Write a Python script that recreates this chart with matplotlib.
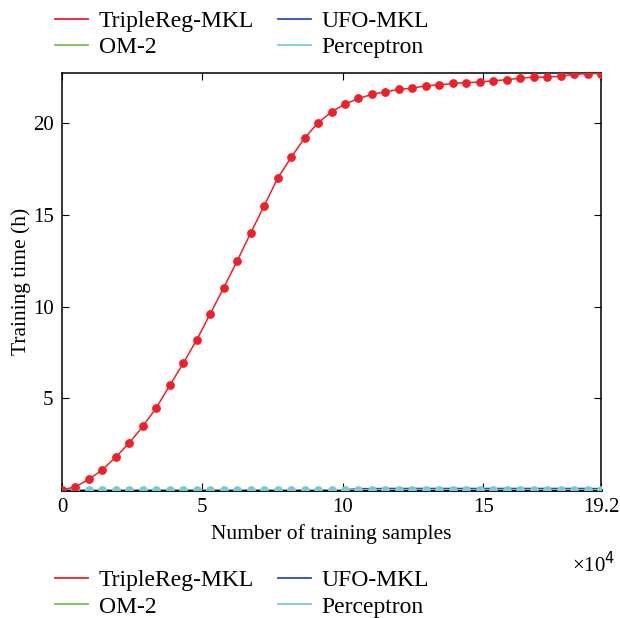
import numpy as np
import matplotlib
matplotlib.use("Agg")
import matplotlib.pyplot as plt
from matplotlib.lines import Line2D

plt.rcParams['font.family'] = ['Liberation Serif', 'DejaVu Serif']

# training samples, in units of 10^4 (41 points, 0 .. 19.2)
samples = np.arange(41) * 0.48

triplereg = [0, 0.18, 0.58, 1.11, 1.8, 2.58, 3.47, 4.49, 5.71, 6.91, 8.2,
             9.61, 11.03, 12.5, 14.02, 15.5, 17.0, 18.14, 19.2, 20.03, 20.63,
             21.05, 21.36, 21.58, 21.73, 21.85, 21.92, 22.05, 22.1, 22.18, 22.23,
             22.25, 22.33, 22.38, 22.47, 22.52, 22.52, 22.58, 22.67, 22.72, 22.72]
om2 = [0.0] * 41
ufo = [0.01] * 22 + [0.07, 0.07, 0.08, 0.08, 0.08, 0.08, 0.08, 0.08, 0.08, 0.08,
                     0.08, 0.08, 0.08, 0.08, 0.08, 0.08, 0.08, 0.08, 0.07]
perceptron = [0.02] * 41

# legend order: column 1 = TripleReg-MKL, OM-2 ; column 2 = UFO-MKL, Perceptron
names = ["TripleReg-MKL", "OM-2", "UFO-MKL", "Perceptron"]
colors = {"TripleReg-MKL": "#ee2028", "OM-2": "#77c04f",
          "UFO-MKL": "#2b4fb3", "Perceptron": "#7ccad9"}

xticks = [0, 5, 10, 15, 19.2]
xticklabels = ["0", "5", "10", "15", "19.2"]
yticks = [5, 10, 15, 20]

fig = plt.figure(figsize=(6.2, 6.18), dpi=100)
ax = fig.add_axes([0.1, 0.2071, 0.8694, 0.6748])

ax.plot(samples, om2, color=colors["OM-2"], lw=1.2, marker="o", ms=4.5, zorder=2)
ax.plot(samples, ufo, color=colors["UFO-MKL"], lw=1.2, zorder=3)
ax.plot(samples, perceptron, color=colors["Perceptron"], lw=1.2, marker="o",
        ms=5.3, zorder=4)
ax.plot(samples, triplereg, color=colors["TripleReg-MKL"], lw=1.1, marker="o",
        ms=5.3, zorder=5)

ax.set_xlim(0, 19.2)
ax.set_ylim(0, 22.75)
ax.set_xticks(xticks)
ax.set_xticklabels(xticklabels)
ax.set_yticks(yticks)
ax.tick_params(direction="in", top=True, right=True, labelsize=15, length=5,
               pad=6)
for s in ax.spines.values():
    s.set_linewidth(1.1)
    s.set_zorder(1)
ax.spines["bottom"].set_linewidth(2)

ax.set_xlabel("Number of training samples", fontsize=15.5, labelpad=5)
ax.set_ylabel("Training time (h)", fontsize=15.5, labelpad=1)
ax.text(1.026, -0.18, "\u00d710$^4$", transform=ax.transAxes, fontsize=15,
        ha="right", va="center")

handles = [Line2D([], [], color=colors[n], lw=1.3) for n in names]
for y in (1.0, 0.095):
    fig.legend(handles, names, loc="upper left", bbox_to_anchor=(0.072, y),
               ncol=2, frameon=False, fontsize=17, handlelength=1.4,
               handletextpad=0.45, columnspacing=1.0, labelspacing=0.2,
               borderaxespad=0.05)

fig.savefig("out.png", dpi=100)
